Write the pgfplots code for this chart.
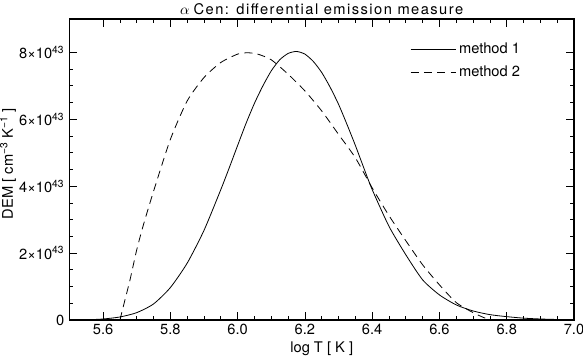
\documentclass[border=0pt]{standalone}
\usepackage{fontspec}
\setmainfont{TeX Gyre Heros}
\usepackage{pgfplots}
\pgfplotsset{compat=1.18}

\begin{document}
\begin{tikzpicture}
\fontsize{11}{13}\selectfont
\begin{axis}[name=ax,
  scale only axis, width=378.4pt, height=225.75pt,
  xmin=5.5, xmax=7.0, ymin=0, ymax=9e43,
  xtick={5.6,5.8,6.0,6.2,6.4,6.6,6.8,7.0},
  xticklabels={5.6,5.8,6.0,6.2,6.4,6.6,6.8,7.0},
  minor x tick num=3,
  ytick={0,2e43,4e43,6e43,8e43},
  yticklabels={0,{2×10\textsuperscript{43}},{4×10\textsuperscript{43}},{6×10\textsuperscript{43}},{8×10\textsuperscript{43}}},
  minor y tick num=3,
  scaled y ticks=false,
  major tick length=6pt, minor tick length=3pt,
  every tick/.style={black, line width=0.6pt},
  axis line style={line width=0.8pt},
  tick label style={font=\fontsize{11}{13}\selectfont},
  xticklabel style={yshift=1pt},
  xlabel={log T [ K ]},
  xlabel style={yshift=2pt},
  legend style={draw=none, fill=none, at={(0.667,0.94)}, anchor=north west,
    row sep=4pt, font=\fontsize{11}{13}\selectfont},
  legend cell align=left,
  legend image code/.code={\draw[#1] (0pt,0pt) -- (34pt,0pt);},
]
\addplot[black, line width=0.6pt, smooth, tension=0.4] coordinates {
(5.50,0) (5.55,0.005e43) (5.60,0.03e43) (5.65,0.09e43) (5.70,0.22e43)
(5.75,0.48e43) (5.80,0.97e43) (5.85,1.70e43) (5.90,2.68e43) (5.95,3.90e43)
(5.975,4.55e43) (6.00,5.22e43) (6.025,5.88e43) (6.05,6.48e43) (6.075,7.00e43)
(6.10,7.45e43) (6.125,7.78e43) (6.15,7.97e43) (6.175,8.03e43) (6.20,7.95e43)
(6.225,7.73e43) (6.25,7.40e43) (6.275,6.96e43) (6.30,6.45e43) (6.325,5.85e43)
(6.35,5.22e43) (6.375,4.55e43) (6.40,3.90e43)
(6.45,2.80e43) (6.50,1.95e43) (6.55,1.20e43) (6.60,0.75e43) (6.65,0.45e43)
(6.70,0.27e43) (6.75,0.16e43) (6.80,0.10e43) (6.85,0.055e43) (6.90,0.03e43)
(6.95,0.015e43) (7.00,0.005e43)
};
\addlegendentry{method 1}
\addplot[black, line width=0.6pt, dash pattern=on 6pt off 4pt, smooth, tension=0.4] coordinates {
(5.65,0) (5.66,0.40e43) (5.68,1.20e43) (5.70,2.10e43) (5.72,2.85e43)
(5.75,3.85e43) (5.80,5.40e43) (5.85,6.55e43) (5.90,7.25e43) (5.95,7.70e43)
(6.00,7.95e43) (6.03,7.99e43) (6.06,7.95e43) (6.10,7.78e43) (6.15,7.35e43)
(6.20,6.85e43) (6.25,6.25e43) (6.30,5.55e43) (6.35,4.85e43) (6.40,3.95e43)
(6.45,3.12e43) (6.50,2.37e43) (6.55,1.65e43) (6.60,1.05e43) (6.65,0.52e43)
(6.70,0.22e43) (6.73,0.08e43) (6.75,0)
};
\addlegendentry{method 2}
\end{axis}
\node[anchor=base, inner sep=0pt] at ([yshift=3pt]ax.north)
  {$\alpha$ {\addfontfeature{LetterSpace=10}Cen: differential emission measure}};
\node[rotate=90, anchor=south, inner sep=0pt] at ([xshift=-40pt,yshift=4.5pt]ax.west)
  {DEM [ cm\textsuperscript{−3} K\textsuperscript{−1} ]};
\pgfresetboundingbox
\path ([xshift=-52.1pt,yshift=-28.5pt]ax.south west) rectangle ([xshift=6.75pt,yshift=14.25pt]ax.north east);
\end{tikzpicture}
\end{document}
